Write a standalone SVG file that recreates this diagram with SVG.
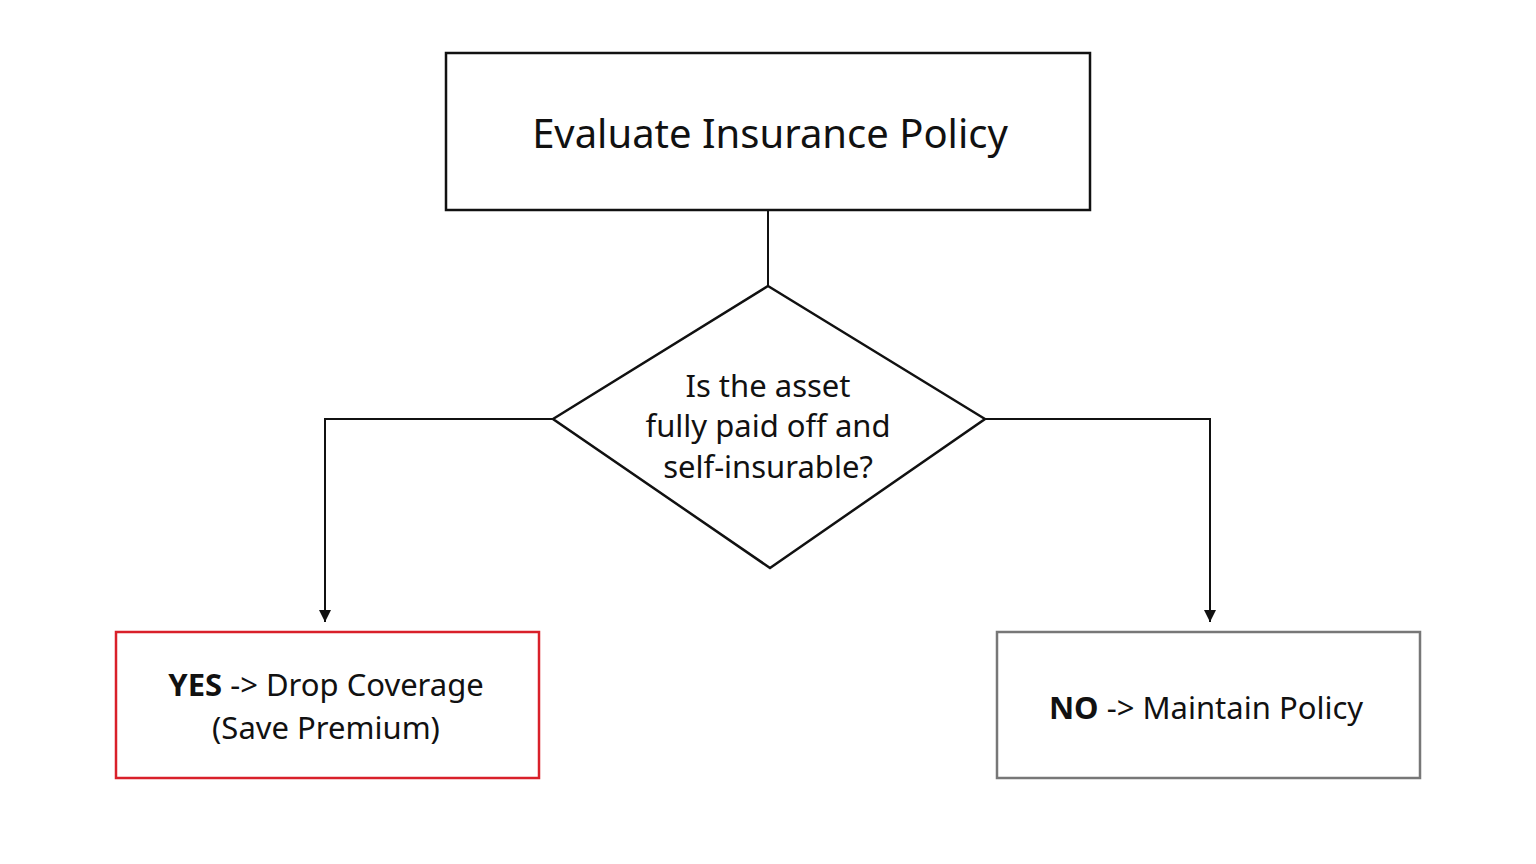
<svg xmlns="http://www.w3.org/2000/svg" width="1536" height="864" viewBox="0 0 1536 864">
<style>
text{font-family:"Noto Sans","Open Sans",sans-serif;fill:#111;text-anchor:middle;dominant-baseline:central}
.n{fill:#fff;stroke-width:2.5}
.c{fill:none;stroke:#111;stroke-width:2}
</style>
<defs><marker id="a" markerWidth="14" markerHeight="14" refX="12" refY="7" orient="auto" markerUnits="userSpaceOnUse" viewBox="0 0 14 14"><path d="M0,1 L12,7 L0,13 Z" fill="#111"/></marker></defs>
<rect width="1536" height="864" fill="#fff"/>
<g id="connectors">
<line class="c" x1="768" y1="210" x2="768" y2="286"/>
<polyline class="c" points="553,419 325,419 325,622" marker-end="url(#a)"/>
<polyline class="c" points="985,419 1210,419 1210,622" marker-end="url(#a)"/>
</g>
<g id="evaluate"><rect class="n" x="446" y="53" width="644" height="157" stroke="#111"/><text x="770" y="132" font-size="40">Evaluate Insurance Policy</text></g>
<g id="decision"><polygon class="n" points="768,286 985,419 770,568 553,419" stroke="#111"/>
<text x="768" y="385" font-size="31">Is the asset</text><text x="768" y="425" font-size="31">fully paid off and</text><text x="768" y="466" font-size="31">self-insurable?</text></g>
<g id="yes"><rect class="n" x="116" y="632" width="423" height="146" stroke="#d9202a"/>
<text x="326" y="684" font-size="31"><tspan font-weight="bold">YES</tspan> -&gt; Drop Coverage</text><text x="326" y="727" font-size="31">(Save Premium)</text></g>
<g id="no"><rect class="n" x="997" y="632" width="423" height="146" stroke="#777"/>
<text x="1206" y="707" font-size="31"><tspan font-weight="bold">NO</tspan> -&gt; Maintain Policy</text></g>
</svg>
